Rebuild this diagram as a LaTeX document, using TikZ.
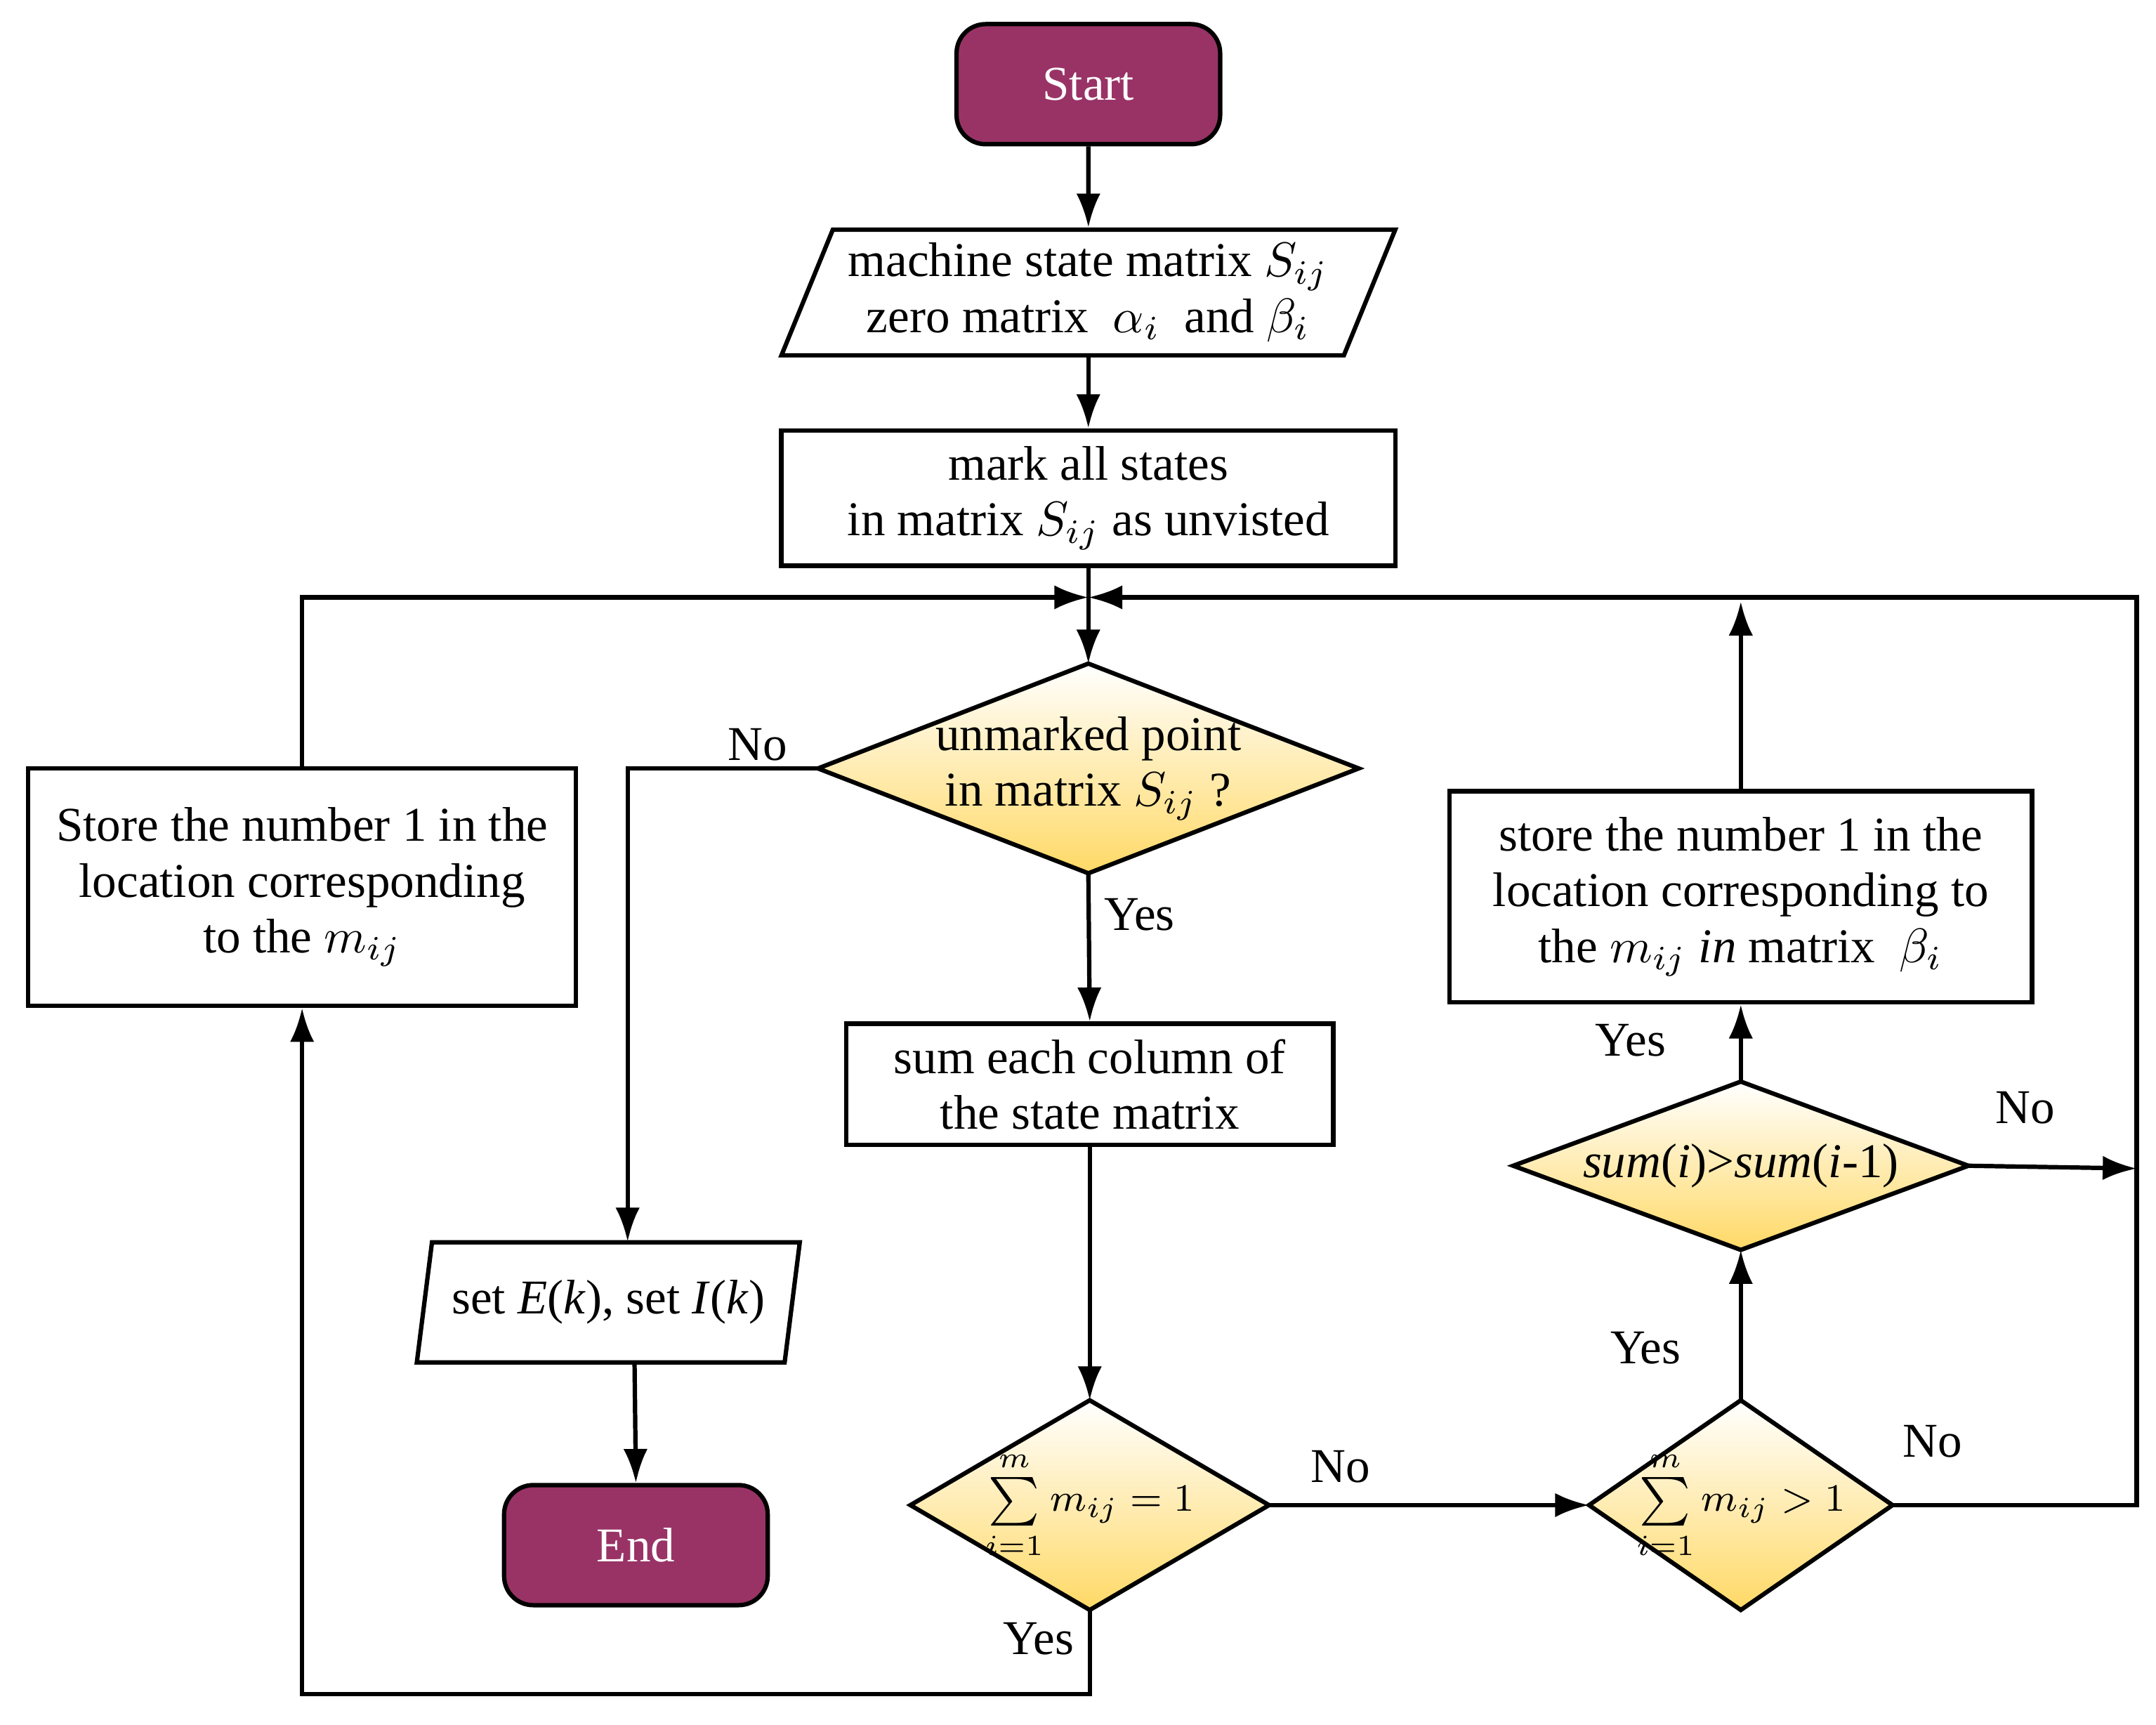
\documentclass[tikz,border=0pt]{standalone}
\usepackage{fontspec}
\setmainfont{Liberation Serif}
\usetikzlibrary{shapes.geometric,arrows.meta}
\definecolor{term}{HTML}{993366}
\definecolor{dia}{HTML}{FFD966}
\newcommand\mydia[6]{% name, x, y, half w, half h, text
  \coordinate (#1-n) at (#2,#3-#5);
  \coordinate (#1-s) at (#2,#3+#5);
  \coordinate (#1-w) at (#2-#4,#3);
  \coordinate (#1-e) at (#2+#4,#3);
  \draw[top color=white,bottom color=dia] (#1-n) -- (#1-e) -- (#1-s) -- (#1-w) -- cycle;
  \node[align=center,inner sep=0] (#1) at (#2,#3) {#6};}
\begin{document}
\begin{tikzpicture}[x=0.01cm,y=-0.01cm,font=\fontsize{10}{11.5}\selectfont,
  line width=0.9pt,
  arr/.style={-{Latex[length=7pt,width=5pt]}},
  term/.style={draw,rounded corners=6pt,fill=term,text=white,minimum width=1.91cm,minimum height=0.87cm},
  box/.style={draw,align=center,inner sep=0},
  para/.style={draw,trapezium,trapezium stretches=true,align=center,inner sep=0},
  lab/.style={inner sep=0}]
\useasboundingbox (0,0) rectangle (1563,1250);
\node[term] (start) at (789,61) {Start};
\node[para,trapezium left angle=64,trapezium right angle=116,minimum width=4.45cm,minimum height=0.91cm] (in) at (789,212)
  {machine state matrix $S_{ij}$\\ zero matrix \ $\alpha_i$ \ and $\beta_i$};
\node[box,minimum width=4.45cm,minimum height=0.98cm] (mark) at (789,361) {mark all states\\ in matrix $S_{ij}$ as unvisted};
\coordinate (j) at (789,433);
\mydia{d1}{789}{557}{196}{76}{unmarked point\\ in matrix $S_{ij}$ ?}
\node[box,minimum width=3.53cm,minimum height=0.88cm] (sum) at (790,786) {sum each column of\\ the state matrix};
\mydia{d2}{790}{1091}{130}{76}{\footnotesize$\sum\limits_{i=1}^{m} m_{ij}=1$}
\mydia{d3}{1262}{1091}{110}{76}{\footnotesize$\sum\limits_{i=1}^{m} m_{ij}>1$}
\mydia{d4}{1262}{845}{165}{61}{\textit{sum}(\textit{i})>\textit{sum}(\textit{i}-1)}
\node[box,minimum width=4.22cm,minimum height=1.53cm] (st2) at (1262,650) {store the number 1 in the\\ location corresponding to\\ the $m_{ij}$ \textit{in} matrix \ $\beta_i$};
\node[box,minimum width=3.97cm,minimum height=1.72cm] (st1) at (219,643) {Store the number 1 in the\\ location corresponding\\ to the $m_{ij}$};
\node[para,trapezium left angle=73,trapezium right angle=107,minimum width=2.79cm,minimum height=0.87cm] (out) at (441,944) {set \textit{E}(\textit{k}), set \textit{I}(\textit{k})};
\node[term] (end) at (461,1120) {End};
\coordinate (up) at (1262,436);
\coordinate (r4) at (1549,847);
\draw[arr] (start) -- (in);
\draw[arr] (in.south -| mark.north) -- (mark);
\draw[arr] (st1.north) |- (j);
\draw[arr] (d3-e) -- (1549,1091) |- (j);
\draw[arr] (mark.south) -- (j) -- (d1-n);
\draw[arr] (d1-w) -- (455,557) -- (455,900);
\draw[arr] (d1-s) -- (sum.north);
\draw[arr] (sum.south) -- (d2-n);
\draw[arr] (d2-s) -- (790,1228) -| (st1.south);
\draw[arr] (d2-e) -- (d3-w);
\draw[arr] (d3-n) -- (d4-s);
\draw[arr] (d4-e) -- (r4);
\draw[arr] (d4-n) -- (st2.south);
\draw[arr] (st2.north) -- (up);
\draw[arr] (460,987) -- (end.north);
\node[lab] at (549,540) {No};
\node[lab] at (826,663) {Yes};
\node[lab] at (753,1188) {Yes};
\node[lab] at (972,1063) {No};
\node[lab] at (1401,1045) {No};
\node[lab] at (1193,977) {Yes};
\node[lab] at (1468,803) {No};
\node[lab] at (1182,754) {Yes};
\end{tikzpicture}
\end{document}
